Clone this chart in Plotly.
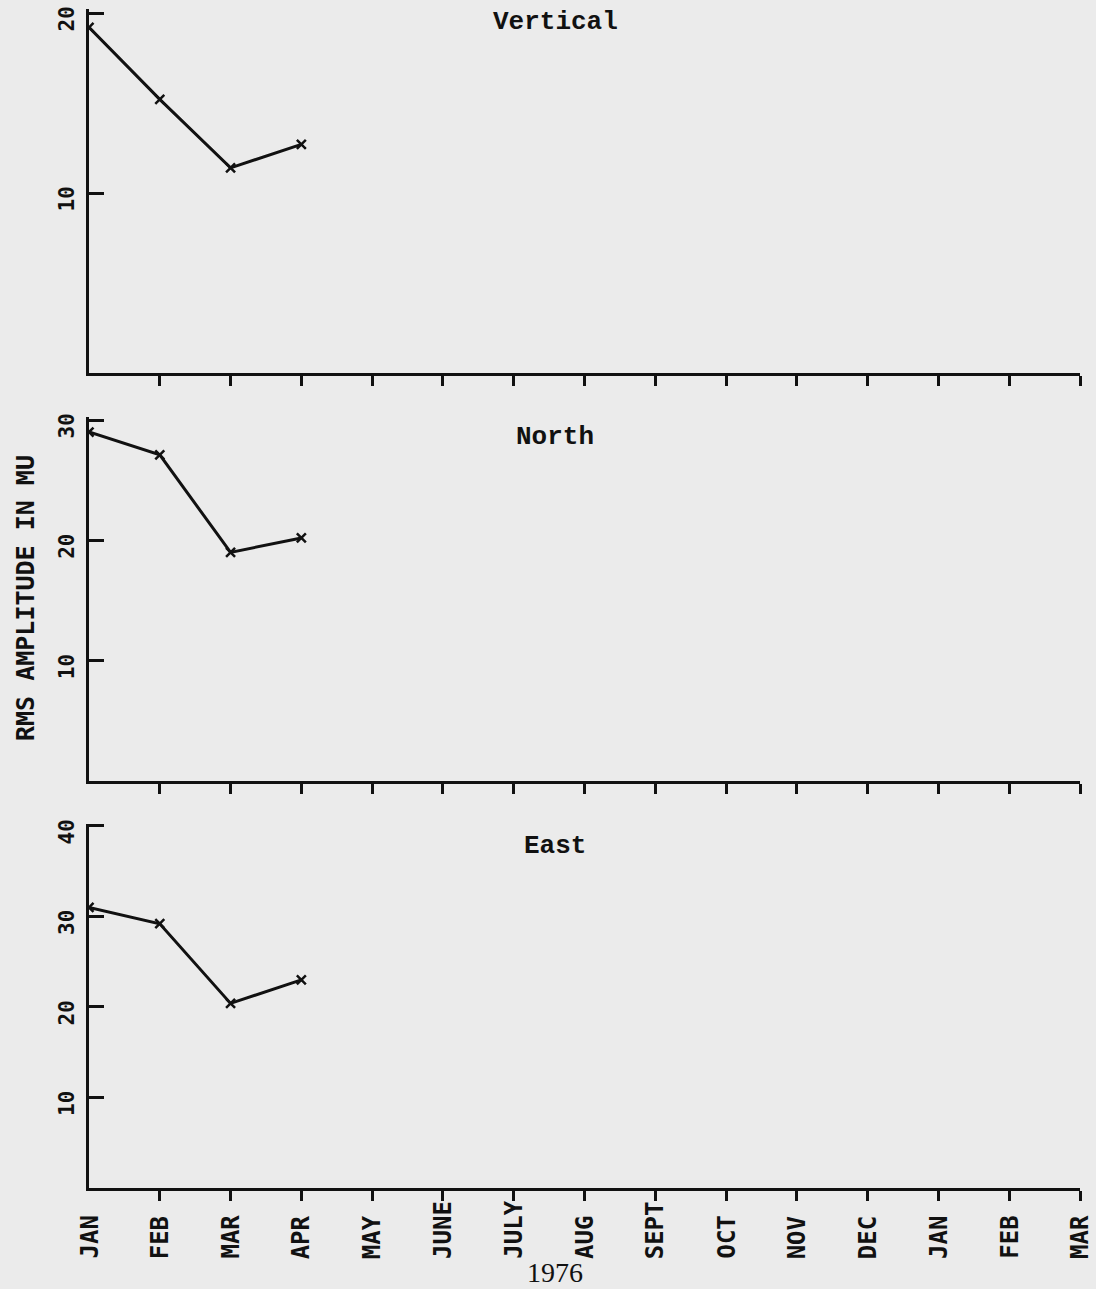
import plotly.graph_objects as go

# Month axis: Jan 1976 through Mar 1977
months = ["JAN", "FEB", "MAR", "APR", "MAY", "JUNE", "JULY", "AUG",
          "SEPT", "OCT", "NOV", "DEC", "JAN", "FEB", "MAR"]

# Monthly RMS amplitudes (MU), one list per component
vertical = [19.2, 15.2, 11.4, 12.7]
north = [29.0, 27.1, 19.0, 20.2]
east = [31.0, 29.2, 20.4, 23.0]

panel_titles = ["Vertical", "North", "East"]
y_tops = [20, 30, 40]
y_ticks = [[10, 20], [10, 20, 30], [10, 20, 30, 40]]

W, H = 1096, 1289
BG = "#ebebeb"
INK = "#111111"
PLOTTER = "DejaVu Sans Mono, Liberation Mono, monospace"
XTICK_FONT = dict(family=PLOTTER, size=24, color=INK, weight="bold")
YTICK_FONT = dict(family=PLOTTER, size=21, color=INK, weight="bold")
YTITLE_FONT = dict(family=PLOTTER, size=25, color=INK, weight="bold")
TITLE_FONT = dict(family="Liberation Mono, Courier New, monospace", size=26, color=INK, weight="bold")

# pixel extents of each panel (top, bottom) and of the x span (left, right)
x_left, x_right = 89, 1080
panel_px = [(13, 373), (420, 781), (826, 1188)]
TOP_PAD = 0.25  # a little headroom so the top tick mark is kept


def fy(py):
    return 1 - py / H


fig = go.Figure()

series = [vertical, north, east]
for i, vals in enumerate(series):
    n = i + 1
    xs = list(range(len(vals)))
    fig.add_trace(go.Scatter(
        x=xs, y=vals, mode="lines+markers",
        xaxis=f"x{n}", yaxis=f"y{n}",
        line=dict(color=INK, width=3),
        marker=dict(symbol="x-thin", size=9, line=dict(color=INK, width=2.5), color=INK),
        showlegend=False, hoverinfo="skip",
    ))

layout = dict(
    width=W, height=H,
    margin=dict(l=0, r=0, t=0, b=0, autoexpand=False),
    paper_bgcolor=BG, plot_bgcolor=BG,
    showlegend=False,
)

month_pos = list(range(len(months)))
for i in range(3):
    n = i + 1
    top, bot = panel_px[i]
    ymax = y_tops[i]
    # extend the domain upward by the pixel height of the headroom
    px_per_unit = (bot - top) / ymax
    top_ext = top - TOP_PAD * px_per_unit
    xkey = "xaxis" if n == 1 else f"xaxis{n}"
    ykey = "yaxis" if n == 1 else f"yaxis{n}"
    layout[xkey] = dict(
        domain=[x_left / W, x_right / W], anchor=f"y{n}",
        range=[0, len(months) - 1],
        tickmode="array", tickvals=month_pos[1:],
        ticks="outside", ticklen=10, tickwidth=3, tickcolor=INK,
        showticklabels=False, automargin=False,
        showline=True, linewidth=3, linecolor=INK,
        showgrid=False, zeroline=False, fixedrange=True,
    )
    layout[ykey] = dict(
        domain=[fy(bot), fy(top_ext)], anchor=f"x{n}",
        range=[0, ymax + TOP_PAD],
        tickmode="array", tickvals=y_ticks[i],
        ticktext=[str(v) for v in y_ticks[i]],
        ticks="inside", ticklen=15, tickwidth=3, tickcolor=INK,
        tickangle=-90, tickfont=YTICK_FONT, ticklabelstandoff=4,
        ticklabelshift=9, automargin=False, ticklabeloverflow="allow",
        showline=True, linewidth=3, linecolor=INK,
        showgrid=False, zeroline=False, fixedrange=True,
    )

fig.update_layout(**layout)

# month names under the bottom panel, read upward and aligned at their first letter
for pos, name in zip(month_pos, months):
    fig.add_annotation(
        text=name, x=pos, xref="x3", y=fy(1261), yref="paper",
        showarrow=False, textangle=-90, xanchor="center", yanchor="bottom",
        font=XTICK_FONT,
    )

title_y = [22, 437, 846]
for t, py in zip(panel_titles, title_y):
    fig.add_annotation(
        text=t, x=555 / W, y=fy(py), xref="paper", yref="paper",
        showarrow=False, xanchor="center", yanchor="middle",
        font=TITLE_FONT,
    )

fig.add_annotation(
    text="RMS AMPLITUDE IN MU", x=26 / W, y=fy(598), xref="paper", yref="paper",
    showarrow=False, textangle=-90, xanchor="center", yanchor="middle",
    font=YTITLE_FONT,
)

fig.add_annotation(
    text="1976", x=555 / W, y=fy(1272), xref="paper", yref="paper",
    showarrow=False, xanchor="center", yanchor="middle",
    font=dict(family="Liberation Serif, DejaVu Serif, serif", size=28, color=INK),
)

fig.write_html("out.html")
